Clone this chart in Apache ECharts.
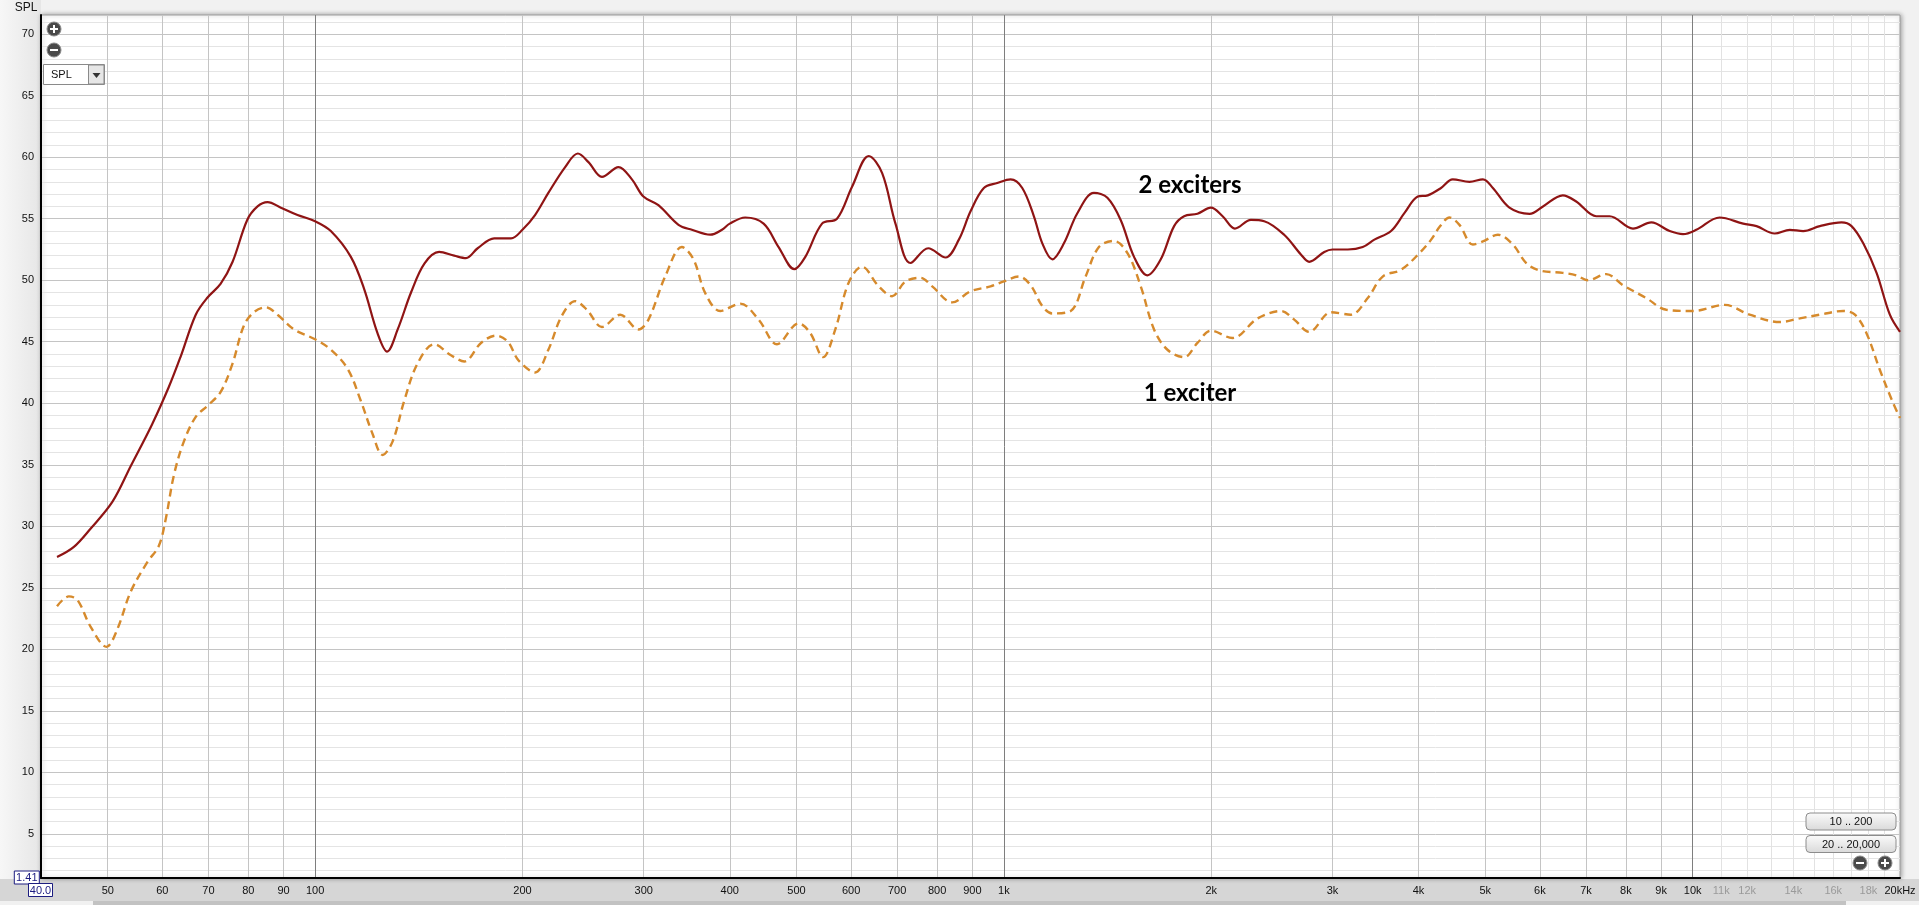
<!DOCTYPE html>
<html><head><meta charset="utf-8">
<script src="https://cdn.jsdelivr.net/npm/echarts@6/dist/echarts.min.js"></script>
<style>
html,body{margin:0;padding:0;width:1919px;height:905px;overflow:hidden;background:#f1f1f1;}
#bgLeft{position:absolute;left:0;top:0;width:41px;height:879px;background:linear-gradient(to right,#f7f7f7,#e6e6e6);}
#bgBottom{position:absolute;left:0;top:879px;width:1919px;height:22px;background:#d6d6d6;}
#scroll{position:absolute;left:93px;top:901px;width:1753px;height:4px;background:#c2c2c2;}
#chart{position:absolute;left:0;top:0;width:1919px;height:905px;}
</style></head>
<body>
<div id="bgLeft"></div><div id="bgBottom"></div><div id="scroll"></div>
<div id="chart"></div>
<script>
// ---- data: "2 exciters" (solid red) ----
const freq2 = [42.2,44.6,47.2,50.8,54.0,58.0,61.3,63.8,67.1,69.8,72.9,75.9,79.7,82.5,85.3,89.2,94.3,100,105.4,112.7,117.8,123.2,127.2,131.8,137.8,144.1,151.4,159.2,165.6,172.2,182.0,192.5,200,208.6,218.1,230.7,240.7,249.4,260.9,275.7,288.4,299.7,315.1,337.0,352.4,374.7,389.7,400,421.2,447.9,470.9,496.4,514.9,544.5,572.4,602.0,636.5,665.7,696.0,731.9,776.5,823.0,860.3,894.6,935.2,978.1,1022.6,1063.4,1105.6,1137.1,1175.8,1222.3,1278.4,1351.4,1413.5,1477.7,1545.2,1615.8,1689.7,1766.6,1826.6,1910.0,1997.8,2077.6,2164.9,2284.2,2387.9,2552.3,2699.0,2775.2,2918.4,3000,3157.5,3318.9,3450.6,3648.5,3814.4,3989.5,4125,4312,4484,4742,4960,5128,5420,5797,6063,6479,6776,7245,7576,8192,8710,9260,9684,10124,10943,11840,12380,13156,13836,14471,15298,16449,17008,17688,18493,19333,20000];
const spl2  = [27.5,28.3,29.8,32.0,34.9,38.3,41.3,43.8,47.2,48.6,49.7,51.5,54.9,56.0,56.35,55.9,55.3,54.8,54.0,51.9,49.3,45.7,44.2,46.0,49.0,51.35,52.3,52.0,51.8,52.6,53.4,53.4,54.1,55.3,57.1,59.2,60.3,59.6,58.4,59.2,58.2,56.8,56.1,54.5,54.1,53.7,54.1,54.6,55.1,54.6,52.7,50.9,51.9,54.6,55.0,57.6,60.1,58.7,54.6,51.4,52.6,51.85,53.3,55.6,57.5,57.9,58.2,57.5,55.2,53.0,51.7,53.0,55.45,57.1,56.7,54.9,51.9,50.4,51.7,54.4,55.2,55.4,55.9,55.2,54.2,54.9,54.8,53.7,52.1,51.5,52.3,52.5,52.5,52.7,53.3,54.0,55.45,56.8,56.9,57.5,58.2,58.0,58.2,57.5,55.9,55.4,56.0,56.9,56.4,55.2,55.2,54.2,54.7,54.0,53.75,54.1,55.1,54.6,54.4,53.8,54.1,54.0,54.4,54.7,54.4,53.0,50.6,47.2,45.8];
// ---- data: "1 exciter" (dashed orange) ----
const freq1 = [42.2,43.9,45.2,47.2,49.8,51.6,54.0,57.1,59.3,60.7,62.4,64.5,67.1,69.8,72.9,75.9,78.8,81.5,84.8,88.2,93.2,100,105.4,111.5,116.5,121.2,125.3,129.6,134.7,140.9,148.9,157.5,164.7,174.1,183.0,190.5,197.3,208.6,218.1,228.1,238.5,248.1,260.9,277.3,294.8,304.8,322.3,340.8,354.3,368.5,387.4,414.3,440.5,468.4,503.5,523.6,546.4,569.2,595.2,622.5,658.1,688.2,719.5,756.6,787.0,841.4,894.6,956.5,1000,1051.5,1093.5,1137.1,1175.8,1250.4,1314.2,1374.0,1444.6,1511.7,1580.4,1652.1,1727.8,1826.6,1910.0,1997.8,2147.7,2335.9,2524.9,2639.7,2775.2,2985.4,3190.7,3374.9,3548.1,3772.5,4011.7,4171.9,4300,4435,4586,4795,4960,5215,5483,5733,5995,6479,6776,7047,7492,7921,8564,9157,10014,11130,12098,13383,14307,15298,16540,17201,17880,18700,19552,20000];
const spl1  = [23.5,24.3,24.0,21.85,20.2,21.6,24.7,27.1,28.4,30.6,34.2,36.9,38.9,39.8,40.9,43.25,46.3,47.4,47.8,47.2,46.0,45.2,44.35,42.8,40.2,37.5,35.8,36.9,40.2,43.25,44.8,43.9,43.4,44.9,45.5,45.0,43.5,42.5,44.35,47.1,48.3,47.6,46.2,47.2,46.0,46.8,50.3,52.7,51.7,48.95,47.5,48.1,46.8,44.8,46.5,45.7,43.75,46.0,49.8,51.1,49.5,48.7,49.9,50.2,49.5,48.2,49.1,49.5,49.9,50.3,49.6,47.9,47.3,47.5,50.3,52.7,53.2,52.2,49.5,46.0,44.35,43.75,44.9,45.9,45.3,46.9,47.5,46.8,45.8,47.4,47.2,48.55,50.3,50.85,52.2,53.3,54.4,55.1,54.5,52.9,53.15,53.7,52.9,51.4,50.8,50.6,50.4,50.0,50.5,49.6,48.55,47.6,47.5,48.0,47.2,46.6,46.9,47.2,47.5,47.2,45.7,42.7,40.0,38.8];
// ---- axes ----
const xGridValues = [50,60,70,80,90,100,200,300,400,500,600,700,800,900,1000,2000,3000,4000,5000,6000,7000,8000,9000,10000,11000,12000,13000,14000,15000,16000,17000,18000,19000];
const xLabelValues = [50,60,70,80,90,100,200,300,400,500,600,700,800,900,1000,2000,3000,4000,5000,6000,7000,8000,9000,10000,11000,12000,14000,16000,18000,20000];
const yLabelValues = [5,10,15,20,25,30,35,40,45,50,55,60,65,70];
const yGridValues = [];
for (let v = 2; v <= 71; v++) yGridValues.push(v);
const X_MIN = 40, X_MAX = 20000, Y_MIN = 1.41, Y_MAX = 71.56;

const zip = (a, b) => a.map((f, i) => [f, b[i]]);
const xColor = v => (v === 100 || v === 1000 || v === 10000) ? '#7e7e7e' : (v > 10000 ? '#e2e2e2' : '#c4c4c4');
const yColor = v => (v % 5 === 0) ? '#c4c4c4' : '#e4e4e4';
const fmtX = v => v >= 20000 ? '20kHz' : (v >= 1000 ? (v / 1000) + 'k' : String(v));
const FONT = 'Liberation Sans';

function zoomIcon(cx, cy, plus) {
  const els = [
    {type:'circle', z:20, shape:{cx:cx, cy:cy, r:7}, style:{fill:'#4a4a4a', stroke:'#8a8a8a', lineWidth:1}},
    {type:'rect', z:21, shape:{x:cx-4, y:cy-1, width:8, height:2}, style:{fill:'#ffffff'}}
  ];
  if (plus) els.push({type:'rect', z:21, shape:{x:cx-1, y:cy-4, width:2, height:8}, style:{fill:'#ffffff'}});
  return els;
}
function button(y, label) {
  return [
    {type:'rect', z:20, shape:{x:1806, y:y, width:90, height:17, r:4},
     style:{fill:{type:'linear',x:0,y:0,x2:0,y2:1,colorStops:[{offset:0,color:'#fbfbfb'},{offset:1,color:'#d9d9d9'}]}, stroke:'#8c8c8c', lineWidth:1}},
    {type:'text', z:21, style:{text:label, x:1851, y:y+9, align:'center', verticalAlign:'middle', fill:'#111', font:'11px "' + FONT + '"'}}
  ];
}
function valueBox(cx, cy, w, label) {
  return [
    {type:'rect', z:20, shape:{x:cx-w/2, y:cy-6.5, width:w, height:13}, style:{fill:'#ffffff', stroke:'#1c1c80', lineWidth:1}},
    {type:'text', z:21, style:{text:label, x:cx, y:cy+0.5, align:'center', verticalAlign:'middle', fill:'#1c1c80', font:'11px "' + FONT + '"'}}
  ];
}

const graphics = [].concat(
  zoomIcon(54, 29, true), zoomIcon(54, 50, false),
  zoomIcon(1860, 863, false), zoomIcon(1885, 863, true),
  [
    {type:'rect', z:20, shape:{x:43.5, y:64.5, width:61, height:20}, style:{fill:'#ffffff', stroke:'#8a8a8a', lineWidth:1}},
    {type:'rect', z:20, shape:{x:88.5, y:65, width:15.5, height:19}, style:{fill:'#e6e6e6', stroke:'#8a8a8a', lineWidth:1}},
    {type:'polygon', z:21, shape:{points:[[92.5,73],[100.5,73],[96.5,78]]}, style:{fill:'#333'}},
    {type:'text', z:21, style:{text:'SPL', x:51, y:75, align:'left', verticalAlign:'middle', fill:'#111', font:'11px "' + FONT + '"'}},
    {type:'text', z:21, style:{text:'SPL', x:26, y:8, align:'center', verticalAlign:'middle', fill:'#111', font:'12px "' + FONT + '"'}},
    {type:'text', z:21, style:{text:'2 exciters', x:1190, y:185, align:'center', verticalAlign:'middle', fill:'#000', font:'bold 24px Lato'}},
    {type:'text', z:21, style:{text:'1 exciter', x:1190, y:393, align:'center', verticalAlign:'middle', fill:'#000', font:'bold 24px Lato'}}
  ],
  button(813, '10 .. 200'), button(835.5, '20 .. 20,000'),
  valueBox(26.8, 877.5, 25, '1.41'), valueBox(40.5, 890, 24, '40.0')
);

const chart = echarts.init(document.getElementById('chart'));
chart.setOption({
  backgroundColor: 'transparent',
  animation: false,
  grid: {
    left: 41, top: 15, right: 19, bottom: 27,
    outerBoundsMode: 'none', containLabel: false,
    show: true, backgroundColor: '#ffffff', borderColor: '#9c9c9c', borderWidth: 1,
    shadowBlur: 5, shadowColor: 'rgba(0,0,0,0.35)', shadowOffsetX: 1, shadowOffsetY: 0
  },
  xAxis: {
    type: 'log', logBase: 10, min: X_MIN, max: X_MAX,
    axisLine: {show: true, onZero: false, lineStyle: {color: '#000', width: 2}},
    axisTick: {show: false, customValues: xGridValues},
    splitLine: {show: true, lineStyle: {color: xGridValues.map(xColor), width: 1}},
    minorSplitLine: {show: false},
    axisLabel: {
      customValues: xLabelValues, margin: 7, fontSize: 11, fontFamily: FONT,
      formatter: v => fmtX(v),
      color: v => (Number(v) > 10000 && Number(v) < 20000) ? '#9a9a9a' : '#111'
    }
  },
  yAxis: {
    type: 'value', min: Y_MIN, max: Y_MAX,
    axisLine: {show: true, lineStyle: {color: '#000', width: 2}},
    axisTick: {show: false, customValues: yGridValues},
    splitLine: {show: true, lineStyle: {color: yGridValues.map(yColor), width: 1}},
    axisLabel: {customValues: yLabelValues, margin: 7, fontSize: 11, fontFamily: FONT, color: '#111'}
  },
  graphic: {elements: graphics},
  series: [
    {
      name: '2 exciters', type: 'line', data: zip(freq2, spl2), smooth: 0.35,
      symbol: 'none', z: 4,
      lineStyle: {color: '#8f1414', width: 2.2}
    },
    {
      name: '1 exciter', type: 'line', data: zip(freq1, spl1), smooth: 0.35,
      symbol: 'none', z: 3,
      lineStyle: {color: '#d68a2c', width: 2.4, type: [8, 5]}
    }
  ]
});
</script>
</body></html>
